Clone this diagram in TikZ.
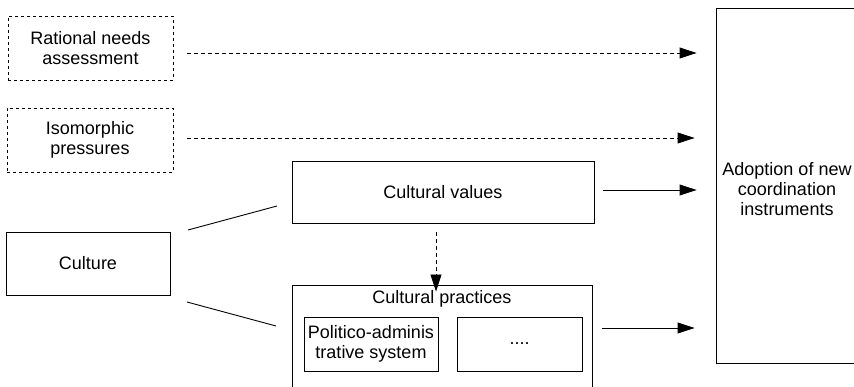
\documentclass[tikz,border=0pt]{standalone}
\usepackage{fontspec}
\setmainfont{Liberation Sans}
\usetikzlibrary{arrows.meta}
\begin{document}
\begin{tikzpicture}[x=1pt,y=-1pt,
  font=\fontsize{18}{20}\selectfont,
  box/.style={draw, line width=0.9pt, inner sep=0pt, align=center},
  dbox/.style={box, dash pattern=on 3pt off 3pt},
  link/.style={line width=0.9pt},
  arr/.style={line width=0.9pt, -{Triangle[length=17pt,width=11pt]}},
  darr/.style={arr, dash pattern=on 4pt off 3pt}]
\useasboundingbox (0,0) rectangle (854,387);

% left-hand drivers
\node[dbox, minimum width=165pt, minimum height=64pt] (rat) at (90.5,48) {Rational needs\\assessment};
\node[dbox, minimum width=166pt, minimum height=64pt] (iso) at (90,140) {Isomorphic\\pressures};
\node[box, minimum width=164pt, minimum height=63pt] (cult) at (88,263.5) {Culture};

% cultural dimensions
\node[box, minimum width=302pt, minimum height=62pt] (val) at (443,192) {Cultural values};
\node[box, minimum width=300pt, minimum height=135pt] (prac) at (442,352.5) {};
\node (praclbl) at (442,299) {Cultural practices};
\node[box, minimum width=134pt, minimum height=54pt] (pol) at (371,344) {Politico-adminis\\trative system};
\node[box, minimum width=125pt, minimum height=54pt] (dots) at (519.5,344) {....};

% outcome
\node[box, minimum width=184pt, minimum height=355pt] (adopt) at (808,185.5) {};
\node[align=center, inner sep=0pt] (adoptlbl) at (787,189) {Adoption of new\\coordination\\instruments};

% connector end points
\coordinate (c1) at (188,230);
\coordinate (v1) at (277,206);
\coordinate (c2) at (187,302);
\coordinate (p1) at (276,326);
\coordinate (r1) at (187,53);
\coordinate (i1) at (187,138);
\coordinate (v2) at (603,190);
\coordinate (p2) at (602,328);
\coordinate (d1) at (436,232);

% culture links
\draw[link] (c1) -- (v1);
\draw[link] (c2) -- (p1);

% influences on adoption
\draw[darr] (r1) -- ([xshift=-19pt]r1 -| adopt.west);
\draw[darr] (i1) -- ([xshift=-21pt]i1 -| adopt.west);
\draw[arr] (v2) -- ([xshift=-19pt]v2 -| adopt.west);
\draw[arr] (p2) -- ([xshift=-21pt]p2 -| adopt.west);

% values shape practices
\draw[darr] (d1) -- ([yshift=-7pt]d1 |- prac.north);
\end{tikzpicture}
\end{document}
